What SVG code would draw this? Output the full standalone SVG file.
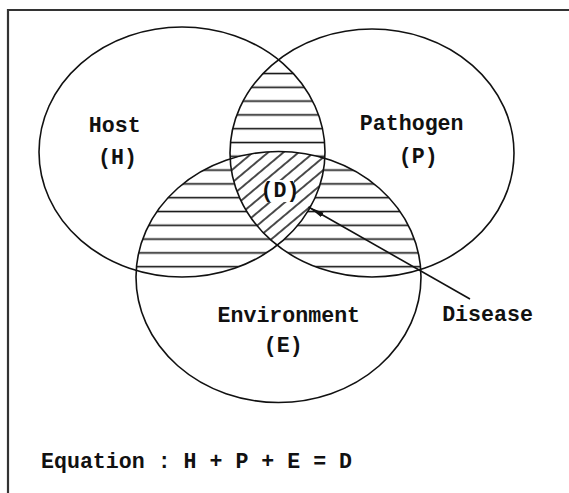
<svg xmlns="http://www.w3.org/2000/svg" width="569" height="493" viewBox="0 0 569 493">
  <style>
    .ring { fill: none; stroke: #111; stroke-width: 1.6; }
    .lbl { font-family: "Liberation Mono", "DejaVu Sans Mono", monospace; font-weight: bold; font-size: 21.6px; fill: #111; text-anchor: middle; }
    .frame { fill: none; stroke: #333; stroke-width: 2.2; }
    .conn { stroke: #111; stroke-width: 1.6; fill: none; }
  </style>
  <defs>
    <clipPath id="clipH"><ellipse cx="182" cy="152" rx="143" ry="125"/></clipPath>
    <clipPath id="clipP"><ellipse cx="372" cy="153" rx="142" ry="124"/></clipPath>
    <clipPath id="clipE"><ellipse cx="278.5" cy="277" rx="142.5" ry="125.5"/></clipPath>
    <!-- horizontal hatching for the two-way overlaps -->
    <pattern id="hatchH" patternUnits="userSpaceOnUse" x="0" y="0" width="20" height="13.8">
      <line x1="0" y1="4.5" x2="20" y2="4.5" stroke="#111" stroke-width="1.6"/>
    </pattern>
    <!-- diagonal hatching for the three-way overlap -->
    <pattern id="hatchD" patternUnits="userSpaceOnUse" x="0" y="0" width="20" height="9.8" patternTransform="rotate(-40)">
      <line x1="0" y1="4.9" x2="20" y2="4.9" stroke="#111" stroke-width="1.5"/>
    </pattern>
    <marker id="head" viewBox="0 -3 16 6" refX="16" refY="0" markerWidth="16" markerHeight="6" markerUnits="userSpaceOnUse" orient="auto">
      <path d="M0,-2.6 L16,0 L0,2.6 z" fill="#111"/>
    </marker>
  </defs>

  <rect width="569" height="493" fill="#fff"/>
  <path class="frame" d="M8,493 V10 H569"/>

  <!-- shaded overlaps -->
  <g id="overlaps">
    <g clip-path="url(#clipH)"><g clip-path="url(#clipP)"><rect x="30" y="20" width="500" height="400" fill="url(#hatchH)"/></g></g>
    <g clip-path="url(#clipH)"><g clip-path="url(#clipE)"><rect x="30" y="20" width="500" height="400" fill="url(#hatchH)"/></g></g>
    <g clip-path="url(#clipP)"><g clip-path="url(#clipE)"><rect x="30" y="20" width="500" height="400" fill="url(#hatchH)"/></g></g>
    <g clip-path="url(#clipH)"><g clip-path="url(#clipP)"><g clip-path="url(#clipE)">
      <rect x="30" y="20" width="500" height="400" fill="#fff"/>
      <rect x="30" y="20" width="500" height="400" fill="url(#hatchD)"/>
    </g></g></g>
  </g>

  <g id="host">
    <ellipse class="ring" cx="182" cy="152" rx="143" ry="125"/>
    <text class="lbl" x="114.7" y="131.7">Host</text>
    <text class="lbl" x="117.5" y="163.5">(H)</text>
  </g>

  <g id="pathogen">
    <ellipse class="ring" cx="372" cy="153" rx="142" ry="124"/>
    <text class="lbl" x="411.7" y="130">Pathogen</text>
    <text class="lbl" x="418.3" y="163.3">(P)</text>
  </g>

  <g id="environment">
    <ellipse class="ring" cx="278.5" cy="277" rx="142.5" ry="125.5"/>
    <text class="lbl" x="288.8" y="321.7">Environment</text>
    <text class="lbl" x="283.3" y="351.7">(E)</text>
  </g>

  <g id="disease-core">
    <rect x="267" y="180" width="27" height="22" fill="#fff"/>
    <text class="lbl" x="280" y="197">(D)</text>
  </g>

  <g id="disease">
    <text class="lbl" x="487.5" y="321">Disease</text>
  </g>

  <g id="connectors">
    <line class="conn" x1="470" y1="299" x2="308.5" y2="207" marker-end="url(#head)"/>
  </g>

  <g id="equation">
    <text class="lbl" x="41" y="468.3" style="text-anchor:start">Equation : H + P + E = D</text>
  </g>
</svg>
